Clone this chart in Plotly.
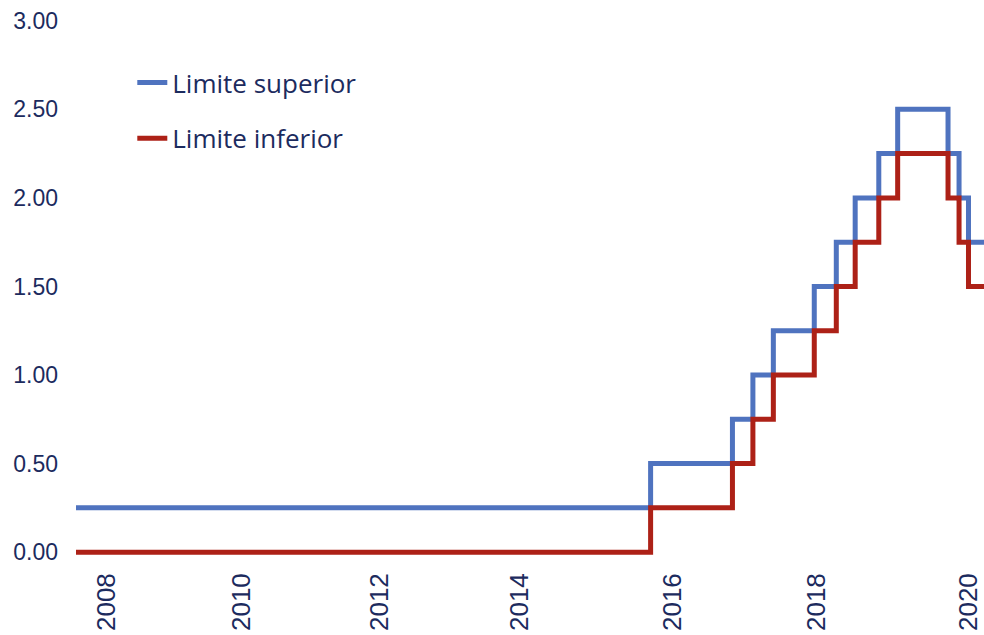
import plotly.graph_objects as go

# Fed funds target range (change dates)
dates = ["2008-12-16", "2015-12-16", "2016-12-14", "2017-03-15", "2017-06-14",
         "2017-12-13", "2018-03-21", "2018-06-13", "2018-09-26", "2018-12-19",
         "2019-07-31", "2019-09-18", "2019-10-30", "2020-01-31"]
upper = [0.25, 0.50, 0.75, 1.00, 1.25, 1.50, 1.75, 2.00, 2.25, 2.50, 2.25, 2.00, 1.75, 1.75]
lower = [0.00, 0.25, 0.50, 0.75, 1.00, 1.25, 1.50, 1.75, 2.00, 2.25, 2.00, 1.75, 1.50, 1.50]

series_names = ["Limite superior", "Limite inferior"]

# x tick labels as placed in the original chart
tick_dates = ["2009-05-03", "2010-12-24", "2012-08-29", "2014-05-14",
              "2016-03-24", "2017-12-24", "2019-10-31"]
tick_text = ["2008", "2010", "2012", "2014", "2016", "2018", "2020"]

y_ticks = [0, 0.5, 1.0, 1.5, 2.0, 2.5, 3.0]

navy = "#1C2B5E"
blue = "#4F73BF"
red = "#AD2117"

fig = go.Figure()
fig.add_trace(go.Scatter(x=dates, y=upper, name=series_names[0], mode="lines",
                         line=dict(color=blue, width=5, shape="hv"),
                         legendgroup="a"))
fig.add_trace(go.Scatter(x=dates, y=lower, name=series_names[1], mode="lines",
                         line=dict(color=red, width=5, shape="hv"),
                         legendgroup="b"))

fig.update_layout(
    width=984, height=635,
    margin=dict(l=76, r=0, t=19, b=74),
    paper_bgcolor="white", plot_bgcolor="white",
    showlegend=True,
    legend=dict(x=0.062, y=0.926, xanchor="left", yanchor="top",
                font=dict(family="Open Sans", size=26, color=navy),
                tracegroupgap=19, bgcolor="rgba(0,0,0,0)"),
    xaxis=dict(type="date", range=["2008-12-16", "2020-01-07"],
               tickmode="array", tickvals=tick_dates, ticktext=tick_text,
               tickangle=-90, showgrid=False, zeroline=False, showline=False,
               ticks="", ticklabelstandoff=6, automargin=False,
               ticklabeloverflow="allow",
               tickfont=dict(family="Liberation Sans, Arial", size=26, color=navy)),
    yaxis=dict(range=[-0.05, 3.01], tickmode="array", tickvals=y_ticks,
               tickformat=".2f", showgrid=False, zeroline=False, showline=False,
               ticks="", ticklabelstandoff=17, automargin=False,
               tickfont=dict(family="Liberation Sans, Arial", size=23, color=navy)),
)

fig.write_html("out.html", config={"displayModeBar": False},
               post_script="document.body.style.margin='0';document.body.style.overflow='hidden';")
